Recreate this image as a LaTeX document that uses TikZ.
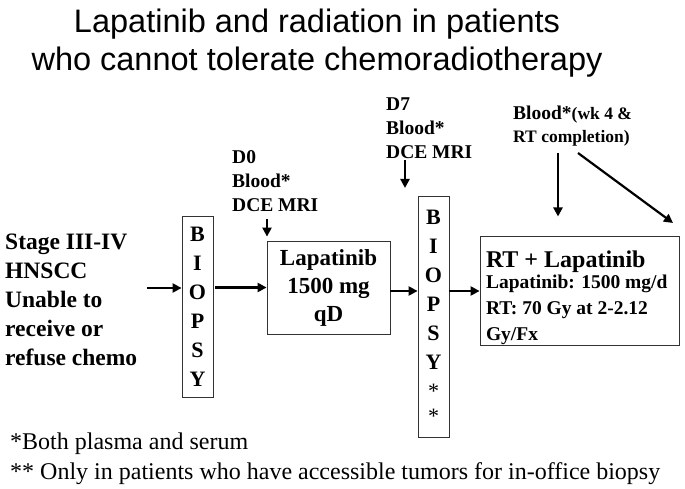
\documentclass[tikz,border=0pt]{standalone}
\usepackage{fontspec}
\setmainfont{Liberation Serif}
\newfontfamily\titlefont{Liberation Sans}
\usetikzlibrary{arrows.meta}

\begin{document}
\begin{tikzpicture}[x=1pt,y=-1pt]
    \tikzstyle{box} = [draw=black!80, line width=0.8pt, inner sep=0pt, align=center]
    \tikzstyle{big} = [font=\bfseries\fontsize{23}{28}\selectfont]
    \tikzstyle{note} = [font=\bfseries\fontsize{19.5}{24}\selectfont, align=left, inner sep=0pt, anchor=west]
    \tikzstyle{arr} = [line width=2.2pt, -{Triangle[length=9pt,width=9pt]}]
    \useasboundingbox (0,0) rectangle (685,489);
    % title
    \node[font=\titlefont\fontsize{32.5}{38}\selectfont, align=center, inner sep=0pt] (title) at (317,43)
      {Lapatinib and radiation in patients\\who cannot tolerate chemoradiotherapy};
    % flow
    \node[big, align=left, anchor=west, inner sep=0pt, font=\bfseries\fontsize{23.5}{29}\selectfont] (stage) at (5,300)
      {Stage III-IV\\HNSCC\\Unable to\\receive or\\refuse chemo};
    \node[box, big, font=\bfseries\fontsize{22}{29}\selectfont, minimum width=31pt, minimum height=181pt] (b1) at (197.5,306.5)
      {B\\I\\O\\P\\S\\Y};
    \node[box, big, minimum width=123pt, minimum height=93pt] (lap) at (328.5,287.5)
      {Lapatinib\\1500 mg\\qD};
    \node[box, big, font=\bfseries\fontsize{22}{29}\selectfont, minimum width=31pt, minimum height=241pt] (b2) at (433.5,316.5)
      {B\\I\\O\\P\\S\\Y\\{\mdseries *}\\[-4pt]{\mdseries *}};
    \node[box, minimum width=199pt, minimum height=108pt, text width=187pt, inner xsep=6pt, align=flush left,
          font=\bfseries\fontsize{19.5}{26}\selectfont] (rt) at (579.5,291)
      {\rule{0pt}{31pt}{\fontsize{24}{26}\selectfont RT + Lapatinib}\\[-5pt]Lapatinib: 1500 mg/d\\RT: 70 Gy at 2-2.12\\Gy/Fx};
    % time points
    \node[note] (d0) at (232,181) {D0\\Blood*\\DCE MRI};
    \node[note] (d7) at (386,128.5) {D7\\Blood*\\DCE MRI};
    \node[note, font=\bfseries\fontsize{17.5}{23}\selectfont] (blood) at (513,126.5)
      {{\fontsize{19.5}{23}\selectfont Blood*}(wk 4 \&\\RT completion)};
    % arrows
    \coordinate (s1) at (147,288);
    \coordinate (t0) at (267,219);
    \coordinate (t7) at (405,160);
    \coordinate (e7) at (405,188);
    \coordinate (t8) at (558,153);
    \coordinate (t9) at (578,153);
    \coordinate (e9) at (673,223);
    \draw[arr] (s1) -- (s1 -| b1.west);
    \draw[arr, shorten <=2pt] (b1.east |- lap) -- (lap.west);
    \draw[arr] (lap.east |- rt) -- (b2.west |- rt);
    \draw[arr] (b2.east |- rt) -- (rt.west);
    \draw[arr, shorten >=4pt] (t0) -- (t0 |- lap.north);
    \draw[arr] (t7) -- (e7);
    \draw[arr, shorten >=20pt] (t8) -- (t8 |- rt.north);
    \draw[arr] (t9) -- (e9);
    % footnotes
    \node[font=\fontsize{24}{30}\selectfont, anchor=west, align=left, inner sep=0pt] (fn) at (10,459)
      {*Both plasma and serum\\{*}* Only in patients who have accessible tumors for in-office biopsy};
\end{tikzpicture}
\end{document}
